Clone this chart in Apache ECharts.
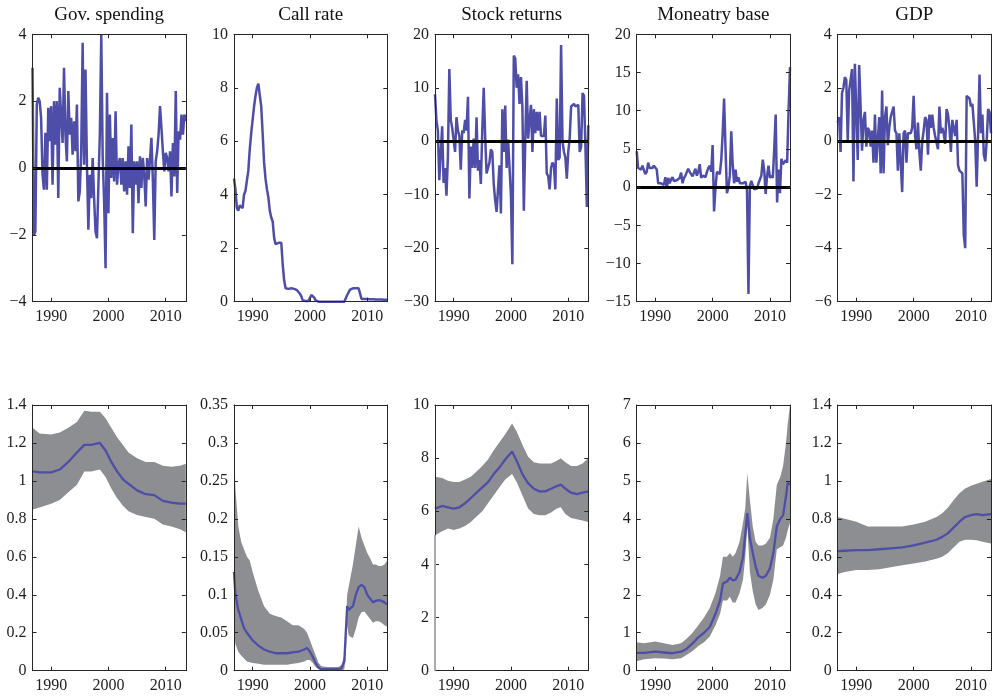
<!DOCTYPE html>
<html><head><meta charset="utf-8">
<script src="https://cdn.jsdelivr.net/npm/echarts@6/dist/echarts.min.js"></script>
<style>html,body{margin:0;padding:0;background:#fff}#c{width:993px;height:698px}</style>
</head><body><div id="c"></div>
<script>
// ---------- data ----------
const titles = ['Gov. spending', 'Call rate', 'Stock returns', 'Moneatry base', 'GDP'];
const xTickYears = [1990, 2000, 2010];
const quarterStart = 1986.75;   // first quarter shown
const quarterCount = 108;       // quarterly observations

const govSpending = [3.0,
 -2.0,-1.9,1.9,2.1, 2.0,1.5,-0.2,-0.65, 1.05,-0.65,1.8,0.8, 1.85,-0.5,2.0,0.7,
 2.0,-0.9,2.4,2.45, 0.75,3.0,1.0,0.2, 2.3,1.0,1.5,0.4, 1.4,0.5,1.9,-1.0,
 -0.7,0.5,3.75,0.1, 2.95,0.1,-1.85,-0.2, -0.9,0.3,-0.9,-1.9, -2.1,-0.5,1.0,4.0,
 0.3,-1.0,-3.0,2.25, -1.35,1.6,-0.3,0.9, -0.4,1.7,-0.5,0.1, 0.3,-0.5,0.3,-0.7,
 0.2,-0.8,0.65,-0.6, 1.3,-1.95,0.2,-0.5, 0.2,-1.05,0.35,-0.6, 0.3,-0.2,-1.15,0.3,
 -0.35,0.25,0.9,-0.35, -2.15,0.2,0.5,1.0, 1.85,1.2,0.5,-0.1, 0.45,0.3,-0.1,0.5,
 -0.85,0.75,-0.25,2.3, -0.75,1.1,0.85,1.6, 1.0,1.6,1.4];

const callRate = [4.6,4.2,3.5,3.4,3.6,3.65,3.5,4.0,4.15,4.2,4.9,5.7,6.3,
 6.8,7.3,7.7,8.0,8.15,8.1,7.3,6.3,5.2,4.6,4.2,3.9,
 3.4,3.15,3.0,2.4,2.15,2.1,2.2,2.25,2.2,1.4,0.8,0.5,
 0.48,0.48,0.48,0.5,0.5,0.48,0.45,0.43,0.4,0.3,0.2,0.05,
 0.03,0.03,0.03,0.03,0.1,0.25,0.25,0.15,0.05,
 0,0,0,0,0,0,0,0,0,0,0,0,0,0,0,0,0,0,0,0,
 0.05,0.25,0.3,0.45,0.5,0.5,0.5,0.5,0.5,0.5,0.3,0.1,
 0.1,0.1,0.1,0.1,0.1,0.09,0.09,0.09,0.08,0.08,0.08,0.08,0.08,0.08,0.07,0.07,0.07,0.07];

const stockReturns = [8.8,4.0,2.0,-7.3,-7.0,2.8,-7.8,-5.0,-10.2,-3.0,
 13.5,4.0,2.5,2.5,-2.0,4.5,2.0,1.0,-5.3,2.0,
 1.5,4.0,2.0,8.3,-10.7,-1.0,-5.0,0.5,-5.0,4.5,
 -5.5,-3.5,-8.0,2.0,10.0,1.0,-6.0,-5.0,-4.0,-1.5,
 -2.0,-8.0,-11.0,-13.2,-13.0,-4.5,-13.5,6.0,-2.0,6.7,
 -5.0,0.3,0.0,-10.0,-23.0,16.0,15.5,10.0,12.5,7.0,
 12.0,6.5,-13.0,0.0,11.3,0.5,4.0,6.8,-2.0,6.0,
 1.5,5.5,2.0,5.5,1.0,1.0,1.0,4.8,-6.0,-6.5,
 -9.0,-5.0,-4.0,-4.5,-9.0,8.0,-3.5,-3.0,18.0,0.0,
 -2.0,-3.0,-7.0,-2.0,0.5,6.5,6.5,7.0,6.5,6.8,
 6.8,-2.0,-1.0,9.0,8.5,-1.0,-12.3,3.0];

const monetaryBase = [4.7,2.5,2.5,2.3,2.8,3.0,1.7,2.0,3.2,2.5,
 2.3,2.5,2.8,3.0,2.3,0.5,0.5,0.5,0.4,0.3,
 1.3,-0.2,1.2,0.5,1.0,1.3,0.8,1.0,0.9,1.0,
 1.2,1.9,0.5,1.2,1.5,2.0,2.4,2.0,1.7,1.4,
 1.5,2.4,1.5,2.0,3.0,1.2,1.5,1.5,1.3,2.0,
 2.5,2.8,2.0,5.5,-3.2,0.0,2.0,1.8,1.7,3.5,
 7.0,11.6,5.0,-0.8,0.0,1.5,7.3,3.0,0.5,2.3,
 0.7,1.3,0.5,0.7,0.5,0.6,0.7,-0.5,-14.0,0.2,
 0.8,1.0,-0.3,-0.3,-0.2,0.5,1.0,1.5,3.6,2.2,
 -0.9,1.5,2.8,1.2,1.5,1.2,5.0,9.5,-2.0,2.3,
 -0.8,3.7,3.0,3.0,3.5,3.2,10.0,15.7];

const gdp = [0.7,0.9,-0.4,1.8,2.0,2.4,2.3,0.0,1.9,1.9,
 2.7,-1.5,2.9,2.85,-0.7,2.85,2.8,-0.35,0.8,1.1,
 -0.2,0.5,0.4,-0.2,0.4,-0.8,1.0,-0.8,-0.75,0.9,
 -1.2,1.9,-1.2,0.9,1.3,-0.15,0.5,0.9,0.9,1.3,
 0.4,0.3,-1.1,0.3,0.3,-1.9,0.3,0.4,-0.8,0.3,
 0.3,0.3,0.5,1.7,0.2,-0.3,0.7,-0.4,-1.1,0.0,
 0.4,0.9,0.8,-0.5,1.0,0.5,1.0,0.5,0.2,0.2,
 -0.3,1.3,0.3,0.5,0.3,-0.1,1.2,1.0,0.5,-0.4,
 0.8,0.5,0.2,0.8,-0.9,-1.1,-1.1,-1.2,-3.5,-4.0,
 1.7,1.7,1.6,1.3,1.4,1.4,0.0,-1.7,0.3,2.5,
 0.3,1.0,-0.5,-0.75,0.0,1.2,1.1,0.3];

// volatility panels (bottom row): dates, median, lower and upper band
const govVolDates  = [1986.75,1988,1990,1991.5,1993,1994.5,1995.8,1997,1998.5,1999.5,2000.5,2001.5,2002.5,2003.5,2005,2006.5,2008,2009.5,2011,2012.5,2013.5];
const govVolMean   = [1.05,1.045,1.045,1.06,1.10,1.15,1.19,1.19,1.20,1.16,1.10,1.05,1.01,0.985,0.95,0.93,0.925,0.895,0.885,0.88,0.88];
const govVolUpper  = [1.28,1.25,1.245,1.255,1.28,1.31,1.37,1.365,1.365,1.33,1.28,1.23,1.19,1.15,1.12,1.10,1.10,1.08,1.075,1.08,1.09];
const govVolLower  = [0.85,0.86,0.88,0.90,0.94,0.98,1.05,1.05,1.06,1.02,0.96,0.91,0.87,0.84,0.82,0.81,0.80,0.77,0.76,0.745,0.73];

const callVolDates = [1986.75,1987,1987.5,1988,1988.5,1989,1989.5,1990,1991,1992,1993,1994,1995,1996,1997,1998,1999,1999.5,2000,2000.5,2001,2001.5,2002,2003,2004,2005,2005.5,2006,2006.25,2006.5,2006.75,2007,2007.5,2008,2008.5,2009,2009.5,2010,2010.5,2011,2011.5,2012,2012.5,2013,2013.5];
const callVolMean  = [0.13,0.10,0.08,0.068,0.056,0.05,0.045,0.04,0.033,0.028,0.025,0.023,0.023,0.023,0.024,0.025,0.028,0.03,0.025,0.018,0.01,0.004,0.002,0.002,0.002,0.002,0.003,0.012,0.05,0.085,0.08,0.078,0.085,0.1,0.11,0.113,0.11,0.1,0.095,0.09,0.092,0.093,0.092,0.09,0.087];
const callVolUpper = [0.30,0.24,0.19,0.17,0.16,0.15,0.145,0.13,0.105,0.085,0.075,0.072,0.07,0.065,0.06,0.06,0.055,0.05,0.04,0.03,0.02,0.01,0.006,0.005,0.005,0.005,0.008,0.02,0.06,0.1,0.11,0.12,0.14,0.165,0.19,0.175,0.165,0.155,0.148,0.14,0.14,0.138,0.138,0.14,0.145];
const callVolLower = [0.05,0.035,0.025,0.02,0.016,0.012,0.011,0.01,0.009,0.008,0.008,0.008,0.008,0.008,0.009,0.01,0.012,0.014,0.014,0.01,0.005,0.002,0.001,0,0,0,0,0.002,0.02,0.06,0.047,0.045,0.043,0.055,0.07,0.077,0.078,0.073,0.068,0.063,0.065,0.065,0.063,0.06,0.058];

const stockVolDates = [1986.75,1988,1989,1990,1991,1992,1993,1994,1995,1996,1997,1998,1999,2000.2,2001,2002,2003,2004,2005,2006,2007,2008,2008.7,2009.5,2010.5,2011.5,2012.5,2013.5];
const stockVolMean  = [6.1,6.2,6.15,6.1,6.15,6.3,6.5,6.7,6.9,7.1,7.4,7.65,7.95,8.25,7.9,7.4,7.05,6.85,6.75,6.75,6.85,6.95,7.0,6.85,6.7,6.65,6.7,6.75];
const stockVolUpper = [7.3,7.25,7.15,7.1,7.1,7.2,7.3,7.5,7.7,7.95,8.3,8.6,8.9,9.3,9.0,8.5,8.05,7.85,7.8,7.8,7.8,7.9,8.0,7.85,7.7,7.7,7.8,8.0];
const stockVolLower = [5.1,5.25,5.35,5.3,5.35,5.45,5.6,5.8,6.0,6.3,6.6,6.9,7.2,7.4,7.1,6.6,6.1,5.9,5.85,5.85,5.95,6.1,6.15,5.9,5.75,5.7,5.65,5.6];

const mbVolDates = [1986.75,1988,1990,1991.5,1993,1994.5,1995.5,1996.5,1997.5,1998.5,1999.5,2000.5,2001.3,2001.8,2002.5,2003,2003.5,2004,2004.7,2005.3,2005.7,2006.05,2006.5,2007,2007.5,2008,2008.7,2009.3,2010,2010.6,2011.2,2011.8,2012.3,2012.8,2013.1,2013.5];
const mbVolMean  = [0.47,0.47,0.5,0.48,0.46,0.5,0.58,0.72,0.88,1.0,1.15,1.5,1.85,2.3,2.35,2.45,2.38,2.4,2.6,3.0,3.6,4.15,3.5,3.1,2.75,2.5,2.45,2.5,2.7,3.1,3.8,4.0,4.1,4.6,4.95,4.9];
const mbVolUpper = [0.75,0.72,0.77,0.72,0.68,0.72,0.85,1.0,1.2,1.4,1.65,2.05,2.5,3.0,3.0,3.1,3.0,3.1,3.4,3.9,4.3,5.2,4.5,3.8,3.4,3.3,3.3,3.35,3.5,4.0,4.9,5.1,5.4,6.0,6.5,7.0];
const mbVolLower = [0.25,0.3,0.33,0.32,0.3,0.33,0.42,0.52,0.65,0.75,0.9,1.2,1.5,1.85,1.85,1.95,1.8,1.8,2.05,2.4,3.0,3.8,2.6,2.1,1.75,1.6,1.65,1.75,2.0,2.4,3.2,3.25,3.3,3.5,3.7,3.9];

const gdpVolDates = [1986.75,1988,1990,1992,1994,1996,1998,2000,2002,2004,2005,2006,2007,2008,2009,2010,2011,2012,2013.5];
const gdpVolMean  = [0.63,0.632,0.635,0.635,0.64,0.645,0.65,0.66,0.675,0.69,0.705,0.725,0.755,0.785,0.81,0.82,0.825,0.82,0.825];
const gdpVolUpper = [0.81,0.80,0.785,0.76,0.76,0.76,0.76,0.77,0.785,0.81,0.83,0.86,0.9,0.935,0.96,0.975,0.985,0.995,1.01];
const gdpVolLower = [0.51,0.52,0.53,0.53,0.535,0.545,0.555,0.565,0.575,0.59,0.6,0.62,0.65,0.68,0.69,0.69,0.688,0.68,0.67];

// ---------- chart ----------
const quarters = Array.from({length: quarterCount}, (_, i) => quarterStart + i * 0.25);
const topSeries = [govSpending, callRate, stockReturns, monetaryBase, gdp];
const topZeroLine = [true, false, true, true, true];
const topY = [{min:-4,max:4,interval:2},{min:0,max:10,interval:2},{min:-30,max:20,interval:10},{min:-15,max:20,interval:5},{min:-6,max:4,interval:2}];
const bottom = [
  {d:govVolDates, m:govVolMean, u:govVolUpper, l:govVolLower, y:{min:0,max:1.4,interval:0.2}},
  {d:callVolDates, m:callVolMean, u:callVolUpper, l:callVolLower, y:{min:0,max:0.35,interval:0.05}},
  {d:stockVolDates, m:stockVolMean, u:stockVolUpper, l:stockVolLower, y:{min:0,max:10,interval:2}, edge: true},
  {d:mbVolDates, m:mbVolMean, u:mbVolUpper, l:mbVolLower, y:{min:0,max:7,interval:1}},
  {d:gdpVolDates, m:gdpVolMean, u:gdpVolUpper, l:gdpVolLower, y:{min:0,max:1.4,interval:0.2}}
];

const FONT = '"Liberation Serif", "Times New Roman", serif';
const AX = '#262626', TXT = '#1e1e1e', BLUE = '#4e4ea8', GRAY = '#8d8e91';
const lefts = [32.5, 234, 435, 636.7, 837.7];
const W = 153.3;
const rows = [{top: 34.3, height: 267.4}, {top: 405, height: 265.7}];
const xMin = 1986.75, xMax = 2013.5;

const fmt = v => String(+Number(v).toFixed(4)).replace('-', '\u2212');

const grid = [], xAxis = [], yAxis = [], series = [];
function addAxes(gi, ySpec) {
  ['bottom', 'top'].forEach(pos => xAxis.push({
    type: 'value', gridIndex: gi, position: pos, min: xMin, max: xMax, z: 10,
    axisLine: {show: true, onZero: false, lineStyle: {color: AX, width: 1}},
    axisTick: {show: true, inside: true, length: 4, customValues: xTickYears, lineStyle: {color: AX}},
    axisLabel: {show: pos === 'bottom', customValues: xTickYears, fontFamily: FONT, fontSize: 16, color: TXT, margin: 7, formatter: v => String(v)},
    splitLine: {show: false}
  }));
  ['left', 'right'].forEach(pos => yAxis.push({
    type: 'value', gridIndex: gi, position: pos, min: ySpec.min, max: ySpec.max, interval: ySpec.interval, z: 10,
    axisLine: {show: true, onZero: false, lineStyle: {color: AX, width: 1}},
    axisTick: {show: true, inside: true, length: 4, lineStyle: {color: AX}},
    axisLabel: {show: pos === 'left', fontFamily: FONT, fontSize: 16, color: TXT, margin: 6, formatter: fmt},
    splitLine: {show: false}
  }));
}

// polygon band drawn through the axis scales (api.coord)
function bandSeries(xi, yi, b) {
  return {
    type: 'custom', xAxisIndex: xi, yAxisIndex: yi, z: 1, silent: true,
    data: [0],
    renderItem: (params, api) => {
      const pts = [];
      for (let i = 0; i < b.d.length; i++) pts.push(api.coord([b.d[i], b.u[i]]));
      for (let i = b.d.length - 1; i >= 0; i--) pts.push(api.coord([b.d[i], b.l[i]]));
      return {type: 'polygon', shape: {points: pts}, style: {fill: GRAY, stroke: null}};
    }
  };
}

for (let r = 0; r < 2; r++) {
  for (let c = 0; c < 5; c++) {
    const gi = r * 5 + c;
    grid.push({left: lefts[c], top: rows[r].top, width: W, height: rows[r].height});
    const ySpec = r === 0 ? topY[c] : bottom[c].y;
    addAxes(gi, ySpec);
    const xi = gi * 2, yi = gi * 2;
    if (r === 0) {
      const vals = topSeries[c];
      series.push({
        type: 'line', xAxisIndex: xi, yAxisIndex: yi, symbol: 'none', z: 2,
        data: quarters.map((t, i) => [t, vals[i]]),
        lineStyle: {color: BLUE, width: 2.5}, emphasis: {disabled: true},
        markLine: topZeroLine[c] ? {silent: true, symbol: ['none', 'none'], label: {show: false},
          lineStyle: {color: '#000', width: 3, type: 'solid'}, data: [{yAxis: 0}]} : undefined
      });
    } else {
      const b = bottom[c];
      series.push(bandSeries(xi, yi, b));
      if (b.edge) {
        // the band's closing edge runs down the left border to zero in the original
        series.push({
          type: 'line', xAxisIndex: xi, yAxisIndex: yi, symbol: 'none', z: 11, silent: true,
          data: [[b.d[0], b.y.min], [b.d[0], b.l[0]]], lineStyle: {color: '#a9aaad', width: 2}
        });
      }
      series.push({
        type: 'line', xAxisIndex: xi, yAxisIndex: yi, symbol: 'none', z: 3,
        data: b.d.map((t, i) => [t, b.m[i]]), lineStyle: {color: BLUE, width: 2.3}, emphasis: {disabled: true}
      });
    }
  }
}

const graphic = titles.map((s, i) => ({
  type: 'text', x: lefts[i] + W / 2, y: 15,
  style: {text: s, fontFamily: FONT, fontSize: 19, fill: '#111', align: 'center', verticalAlign: 'middle'}
}));

const chart = echarts.init(document.getElementById('c'));
chart.setOption({animation: false, backgroundColor: '#fff', grid, xAxis, yAxis, series, graphic, tooltip: {show: false}});
</script>
</body></html>
